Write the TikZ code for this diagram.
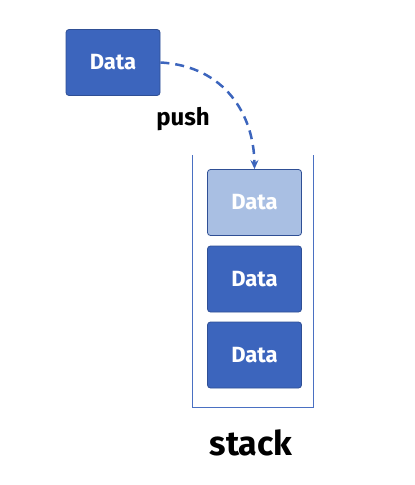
\documentclass[tikz,border=0pt]{standalone}
\usepackage{fontspec}
\setmainfont{Fira Sans}
\usetikzlibrary{arrows.meta}
\definecolor{dblue}{HTML}{3C65BD}
\definecolor{lblue}{HTML}{A9BFE3}
\definecolor{bord}{HTML}{2F4F95}
\definecolor{cont}{HTML}{4A70C2}
\tikzset{
  databox/.style={draw=bord, line width=0.8pt, fill=dblue, rounded corners=3pt,
    minimum width=94pt, minimum height=66pt, inner sep=0pt,
    text=white, font=\fontsize{22}{24}\selectfont\bfseries},
  lightbox/.style={databox, fill=lblue},
  label/.style={font=\fontsize{#1}{#1}\selectfont\bfseries, text=black},
}
\begin{document}
\begin{tikzpicture}[x=1pt,y=-1pt]
\useasboundingbox (0,0) rectangle (415,485);
\node[databox] (src) at (113,62.5) {Data};
\node[lightbox] (d1) at (254.5,202.5) {Data};
\node[databox] (d2) at (254.5,279) {Data};
\node[databox] (d3) at (254.5,355) {Data};
\coordinate (cl) at (192,155);
\coordinate (cr) at (313,155);
\draw[cont, line width=1pt] (cl) -- (192,407) -- (313,407) -- (cr);
\draw[dblue, line width=2.5pt, dash pattern=on 9pt off 6pt, -{Stealth[length=9pt,width=8pt]}]
  (src.east) .. controls (225,66) and (254,115) .. (d1.north);
\node[label=24] (push) at (183,119) {push};
\node[label=34] (stack) at (251,443) {stack};
\end{tikzpicture}
\end{document}
